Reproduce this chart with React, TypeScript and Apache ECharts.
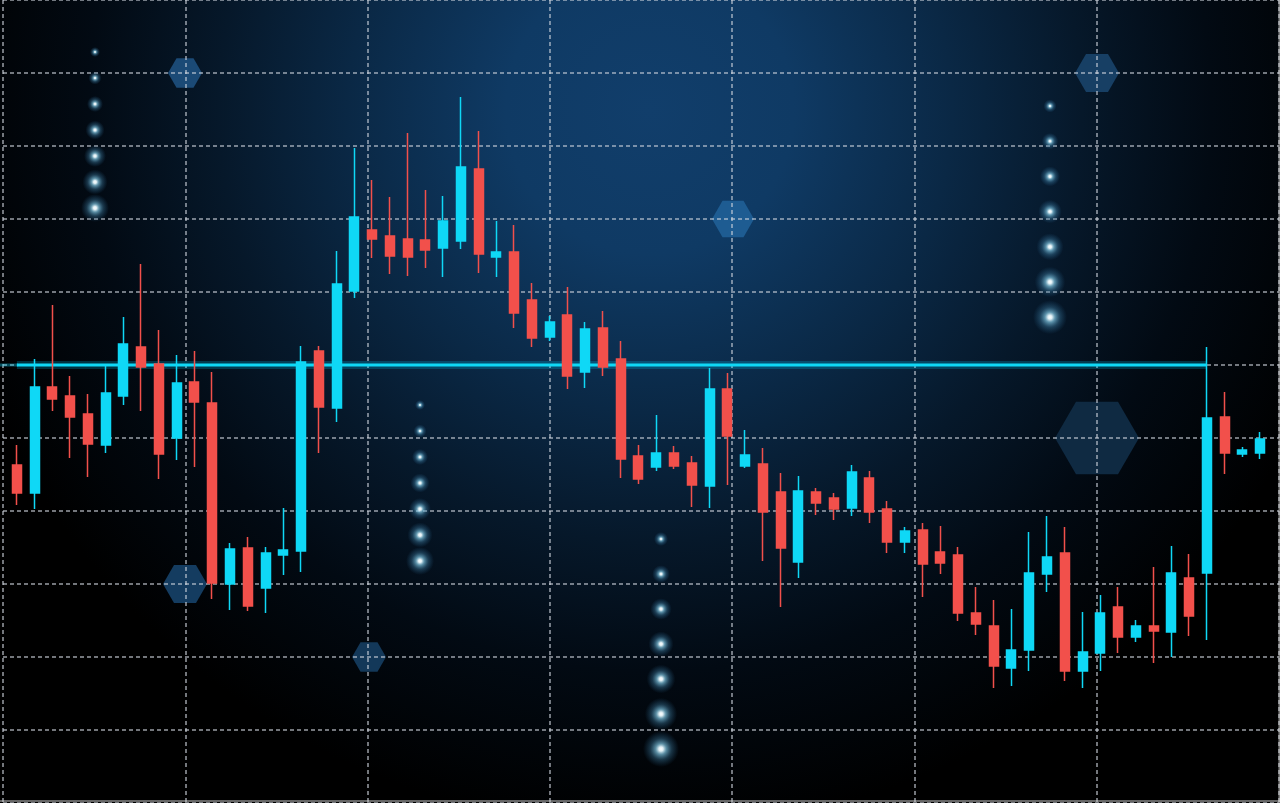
import React, { useEffect, useRef } from 'react';
import * as echarts from 'echarts';

// ---- data (price units: one grid row = 73) ----
const CATEGORIES = Array.from({ length: 71 }, (_, i) => `S${i + 1}`);

const OPEN = [
  338, 310, 416, 407, 389, 358, 407, 456, 439, 365,
  421, 400, 219, 255, 215, 248, 252, 452, 395, 512,
  573, 567, 564, 563, 555, 562, 634, 546, 551, 503,
  466, 488, 431, 475, 444, 347, 336, 350, 340, 317,
  414, 337, 339, 311, 241, 311, 305, 295, 325, 294,
  261, 273, 251, 248, 190, 177, 135, 153, 229, 250,
  132, 150, 196, 166, 177, 171, 225, 230, 386, 349,
  350,
];
const CLOSE = [
  310, 416, 404, 386, 359, 410, 459, 436, 349, 420,
  401, 220, 254, 197, 250, 253, 441, 396, 519, 586,
  564, 547, 546, 553, 582, 636, 549, 551, 490, 465,
  481, 427, 474, 436, 344, 324, 350, 337, 318, 414,
  367, 348, 291, 255, 312, 300, 294, 331, 291, 261,
  272, 239, 240, 190, 179, 137, 153, 230, 246, 132,
  151, 190, 166, 177, 172, 230, 187, 385, 350, 353,
  364,
];
const LOW = [
  298, 294, 392, 345, 326, 350, 398, 392, 324, 343,
  336, 204, 193, 192, 190, 228, 231, 350, 381, 505,
  545, 529, 527, 535, 526, 554, 530, 526, 475, 456,
  462, 414, 415, 427, 325, 319, 332, 334, 296, 295,
  318, 335, 242, 196, 225, 288, 283, 287, 280, 250,
  250, 206, 229, 182, 168, 115, 117, 132, 211, 122,
  115, 132, 150, 161, 140, 146, 167, 163, 329, 346,
  344,
];
const HIGH = [
  358, 444, 498, 427, 409, 438, 486, 539, 473, 448,
  452, 431, 260, 266, 256, 295, 457, 457, 552, 655,
  623, 606, 670, 613, 607, 706, 672, 582, 578, 520,
  487, 516, 481, 492, 462, 358, 388, 357, 347, 435,
  430, 373, 355, 330, 327, 315, 310, 338, 332, 302,
  276, 280, 277, 256, 216, 203, 194, 271, 287, 276,
  191, 208, 216, 183, 236, 257, 249, 456, 411, 356,
  371,
];
const LEVEL = 438; // highlighted price level
const LEVEL_END = 67; // level line ends at this session

// ---- decoration (not data) ----
const W = 1280;
const H = 803;
const CYAN = '#0fd8f6';
const RED = '#f2504b';

const HEXAGONS = [
  { cx: 185, cy: 73, r: 17, color: '#1b4a76' },
  { cx: 185, cy: 584, r: 22, color: '#143c60' },
  { cx: 369, cy: 657, r: 17, color: '#133859' },
  { cx: 733, cy: 219, r: 21, color: '#1e5c92' },
  { cx: 1097, cy: 73, r: 22, color: '#173f64' },
  { cx: 1097, cy: 438, r: 42, color: '#0f2a42' },
];

const DOT_COLUMNS = [
  { x: 95, y0: 52, step: 26, r0: 5, r1: 14 },
  { x: 420, y0: 405, step: 26, r0: 5, r1: 14 },
  { x: 661, y0: 539, step: 35, r0: 7, r1: 18 },
  { x: 1050, y0: 106, step: 35.2, r0: 6.5, r1: 17 },
];

function hexPoints(cx: number, cy: number, r: number) {
  const pts: number[][] = [];
  for (let k = 0; k < 6; k++) {
    const a = (Math.PI / 3) * k;
    pts.push([cx + r * Math.cos(a), cy + r * Math.sin(a)]);
  }
  return pts;
}

function buildGraphics() {
  const els: any[] = [];
  els.push({
    type: 'rect',
    z: -100,
    silent: true,
    shape: { x: 0, y: 0, width: W, height: H },
    style: {
      fill: new echarts.graphic.RadialGradient(
        650,
        110,
        720,
        [
          { offset: 0, color: '#113e6b' },
          { offset: 0.2, color: '#0f3a64' },
          { offset: 0.42, color: '#0a2845' },
          { offset: 0.6, color: '#06182a' },
          { offset: 0.78, color: '#020a13' },
          { offset: 1, color: '#000000' },
        ],
        true
      ),
    },
  });
  HEXAGONS.forEach((h) => {
    els.push({
      type: 'polygon',
      z: -50,
      silent: true,
      shape: { points: hexPoints(h.cx, h.cy, h.r) },
      style: { fill: h.color },
    });
  });
  // faint left lead-in of the level line
  els.push({
    type: 'rect',
    z: 1,
    silent: true,
    shape: { x: 0, y: 363.5, width: 18, height: 3 },
    style: { fill: 'rgba(15,200,235,0.4)' },
  });
  DOT_COLUMNS.forEach((c) => {
    for (let i = 0; i < 7; i++) {
      const r = c.r0 + ((c.r1 - c.r0) * i) / 6;
      els.push({
        type: 'circle',
        z: 1,
        silent: true,
        shape: { cx: c.x, cy: c.y0 + c.step * i, r },
        style: {
          fill: new echarts.graphic.RadialGradient(0.5, 0.5, 0.5, [
            { offset: 0, color: 'rgba(255,255,255,1)' },
            { offset: 0.12, color: 'rgba(235,250,255,0.95)' },
            { offset: 0.3, color: 'rgba(130,200,228,0.7)' },
            { offset: 0.6, color: 'rgba(70,140,180,0.35)' },
            { offset: 1, color: 'rgba(40,110,160,0)' },
          ]),
        },
      });
    }
  });
  els.push({
    type: 'line',
    z: 1,
    silent: true,
    shape: { x1: W - 0.8, y1: 0, x2: W - 0.8, y2: H },
    style: { stroke: 'rgba(210,210,210,0.65)', lineWidth: 1.4 },
  });
  els.push({
    type: 'line',
    z: 1,
    silent: true,
    shape: { x1: 0, y1: H - 2, x2: W, y2: H - 2 },
    style: { stroke: 'rgba(210,210,210,0.65)', lineWidth: 1.4 },
  });
  return els;
}

const gridLineStyle = {
  color: 'rgba(205,212,220,0.75)',
  width: 1.5,
  type: [4, 3] as any,
};

export default function App() {
  const ref = useRef<HTMLDivElement>(null);

  useEffect(() => {
    document.body.style.margin = '0';
    document.body.style.background = '#000';
    if (!ref.current) return;
    const chart = echarts.init(ref.current, undefined, { renderer: 'svg' });

    const candles = OPEN.map((o, i) => [o, CLOSE[i], LOW[i], HIGH[i]]);
    const levelData = [
      [0, LEVEL],
      [LEVEL_END, LEVEL],
    ];

    chart.setOption({
      animation: false,
      backgroundColor: '#000',
      graphic: buildGraphics(),
      grid: [
        { left: 8, top: 0, width: 1261, height: H },
        { left: 3, top: 0, width: 1276, height: H },
      ],
      xAxis: [
        {
          type: 'category',
          gridIndex: 0,
          data: CATEGORIES,
          boundaryGap: true,
          show: false,
        },
        {
          type: 'value',
          gridIndex: 1,
          min: 0,
          max: 7,
          interval: 1,
          axisLine: { show: false },
          axisTick: { show: false },
          axisLabel: { show: false },
          splitLine: { show: true, lineStyle: gridLineStyle },
        },
      ],
      yAxis: [
        {
          type: 'value',
          gridIndex: 0,
          min: 0,
          max: 803,
          interval: 73,
          show: false,
        },
        {
          type: 'value',
          gridIndex: 1,
          min: 0,
          max: 803,
          interval: 73,
          axisLine: { show: false },
          axisTick: { show: false },
          axisLabel: { show: false },
          splitLine: { show: true, lineStyle: gridLineStyle },
        },
      ],
      series: [
        {
          type: 'line',
          name: 'level-glow',
          xAxisIndex: 0,
          yAxisIndex: 0,
          z: 1,
          silent: true,
          symbol: 'none',
          data: levelData,
          lineStyle: { color: 'rgba(0,205,250,0.22)', width: 8 },
        },
        {
          type: 'line',
          name: 'level',
          xAxisIndex: 0,
          yAxisIndex: 0,
          z: 2,
          silent: true,
          symbol: 'none',
          data: levelData,
          lineStyle: { color: CYAN, width: 3 },
        },
        {
          type: 'candlestick',
          name: 'price',
          xAxisIndex: 0,
          yAxisIndex: 0,
          z: 3,
          barWidth: 9.5,
          data: candles,
          itemStyle: {
            color: CYAN,
            color0: RED,
            borderColor: CYAN,
            borderColor0: RED,
            borderWidth: 1.5,
          },
        },
      ],
    });

    return () => {
      chart.dispose();
    };
  }, []);

  return (
    <div
      ref={ref}
      style={{ position: 'fixed', left: 0, top: 0, width: W, height: H }}
    />
  );
}
